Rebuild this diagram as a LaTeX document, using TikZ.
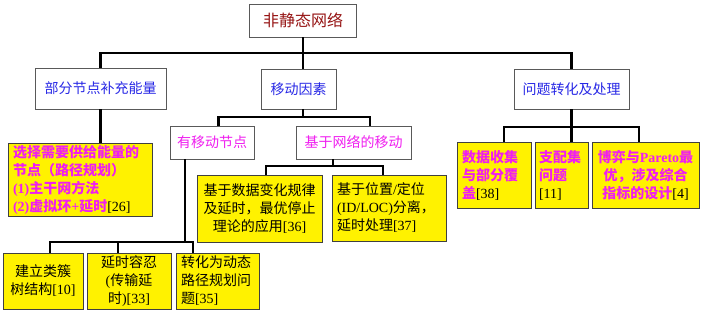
\documentclass[tikz,border=0pt]{standalone}
\usepackage{fontspec}
\setmainfont{Liberation Serif}
\newfontfamily\cjk{Noto Sans CJK SC}
\usetikzlibrary{calc}
\definecolor{rootred}{RGB}{150,20,20}
\definecolor{headblue}{RGB}{40,40,230}
\definecolor{leafpink}{RGB}{240,30,240}
\newcommand\lat[1]{{\rmfamily #1}}
\newcommand\refno[1]{{\color{black}\mdseries\rmfamily[#1]}}

\begin{document}
\begin{tikzpicture}[x=1pt,y=-1pt,
  link/.style={line width=2.4pt,line join=miter},
  head/.style={draw=black!65,line width=0.8pt,fill=white,inner sep=0pt,
    font=\cjk\fontsize{14}{18}\selectfont},
  leaf/.style={draw=black!75,line width=0.8pt,fill=yellow,inner xsep=5pt,inner ysep=0pt,
    font=\cjk\fontsize{14}{18}\selectfont},
  hot/.style={text=leafpink,font=\cjk\bfseries\fontsize{14}{18}\selectfont}]
  \useasboundingbox (0,0) rectangle (704,312);
  % Top and first level
  \node[head,text=rootred,font=\cjk\fontsize{16}{20}\selectfont,minimum width=107pt,minimum height=33pt] (root) at (303,20.5) {非静态网络};
  \node[head,text=headblue,minimum width=131pt,minimum height=41pt] (part) at (100.5,88.5) {部分节点补充能量};
  \node[head,text=headblue,minimum width=75pt,minimum height=40pt] (move) at (298.5,89) {移动因素};
  \node[head,text=headblue,minimum width=115pt,minimum height=40pt] (prob) at (571.5,89) {问题转化及处理};
  % Mobility branch
  \node[head,text=leafpink,minimum width=84pt,minimum height=33pt] (hasmob) at (212,142.5) {有移动节点};
  \node[head,text=leafpink,minimum width=115pt,minimum height=33pt] (netmob) at (353.5,142.5) {基于网络的移动};
  % Leaves
  \node[leaf,hot,text width=134pt,minimum height=73pt,align=left] (energy) at (80,179.5)
    {选择需要供给能量的\\节点（路径规划）\\\lat{(1)}主干网方法\\\lat{(2)}虚拟环\lat{+}延时\refno{26}};
  \node[leaf,text width=115pt,minimum height=67pt,align=center] (datarule) at (259.5,208.5)
    {基于数据变化规律\\及延时，最优停止\\理论的应用\lat{[36]}};
  \node[leaf,text width=104pt,minimum height=66pt,align=left] (locsep) at (389,208)
    {基于位置\lat{/}定位\\\lat{(ID/LOC)}分离，\\延时处理\lat{[37]}};
  \node[leaf,text width=70pt,minimum height=56pt,align=center] (cluster) at (43,281)
    {建立类簇\\树结构\lat{[10]}};
  \node[leaf,text width=74pt,minimum height=56pt,align=center] (tolerant) at (129,281)
    {延时容忍\\\lat{(}传输延\\时\lat{)[33]}};
  \node[leaf,text width=73pt,minimum height=56pt,align=left] (dynpath) at (217.5,281)
    {转化为动态\\路径规划问\\题\lat{[35]}};
  \node[leaf,hot,text width=64pt,minimum height=66pt,align=left] (collect) at (494,175)
    {数据收集\\与部分覆\\盖\refno{38}};
  \node[leaf,hot,inner xsep=4pt,text width=45pt,minimum height=66pt,align=left] (domset) at (561.5,175)
    {支配集\\问题\\\refno{11}};
  \node[leaf,hot,inner xsep=3pt,text width=101pt,minimum height=66pt,align=center] (game) at (645.5,175)
    {博弈与\lat{Pareto}最\\优，涉及综合\\指标的设计\refno{4}};
  % Junctions
  \coordinate (jroot) at (303,53);
  \coordinate (jmove) at (303,117);
  \coordinate (jnet) at (333,166);
  \coordinate (jmob) at (185,242);
  \coordinate (jprob) at (571.5,127);
  % Connectors
  \draw[link] (root.south -| jroot) -- (jroot);
  \draw[link] (part.north) |- (jroot) -| (prob.north);
  \draw[link] (jroot) -- (move.north -| jroot);
  \draw[link] (part.south) -- (energy.north -| part.south);
  \draw[link] (move.south -| jmove) -- (jmove);
  \draw[link] ([xshift=6.5pt]hasmob.north) |- (jmove) -| ([xshift=16.5pt]netmob.north);
  \draw[link] (netmob.south -| jnet) -- (jnet);
  \draw[link] ([xshift=6.5pt]datarule.north) |- (jnet) -| ([xshift=-6pt]locsep.north);
  \draw[link] (hasmob.south -| jmob) -- (jmob);
  \draw[link] ([xshift=7pt]cluster.north) |- (jmob) -| ([xshift=-24.5pt]dynpath.north);
  \draw[link] ([xshift=-11pt]tolerant.north) -- ++(0,-11);
  \draw[link] (prob.south) -- (jprob);
  \draw[link] ([xshift=10pt]collect.north) |- (jprob) -| ([xshift=-6.5pt]game.north);
  \draw[link] (domset.north -| jprob) -- (jprob);
\end{tikzpicture}
\end{document}
